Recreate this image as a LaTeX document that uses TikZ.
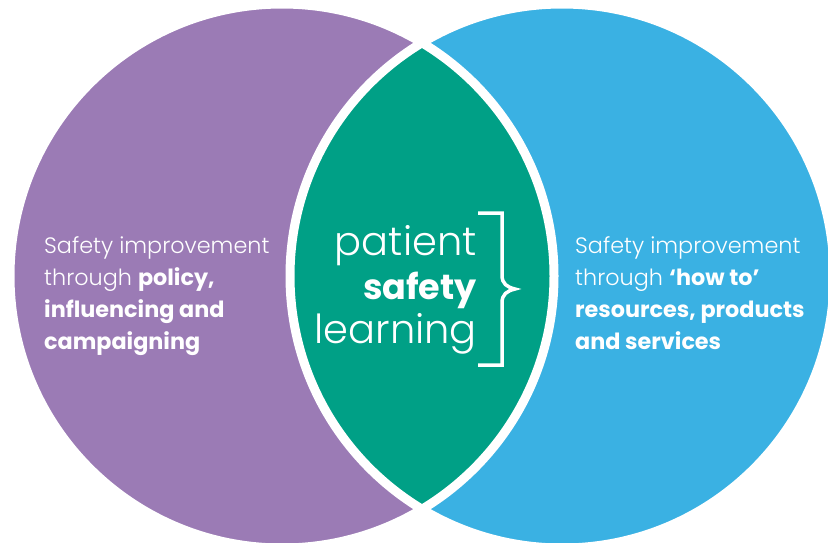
\documentclass[tikz,border=0pt]{standalone}
\usepackage{fontspec}
\setmainfont{Poppins}
\IfFontExistsTF{Poppins Light}{\newfontfamily\lightfont{Poppins Light}}{\newfontfamily\lightfont{Poppins}}
\definecolor{ppurple}{RGB}{155,123,181}
\definecolor{pblue}{RGB}{58,177,227}
\definecolor{pgreen}{RGB}{0,160,134}
\begin{document}
\begin{tikzpicture}[x=1pt,y=-1pt,
  sidetext/.style={anchor=base west, inner sep=0pt, text=white, font=\fontsize{22.3}{28}\selectfont},
  midtext/.style={anchor=base east, inner sep=0pt, text=white, font=\fontsize{40}{44}\selectfont},
  gap/.style={white, line width=9pt}]
\useasboundingbox (0,0) rectangle (828,542);
\fill[white] (0,0) rectangle (828,542);
\coordinate (L) at (282,276);
\coordinate (R) at (562,276);
\fill[ppurple] (L) circle[radius=272];
\fill[pblue] (R) circle[radius=272];
\begin{scope}
  \clip (L) circle[radius=272];
  \fill[pgreen] (R) circle[radius=272];
\end{scope}
\draw[gap] (R) circle[radius=272];
\draw[gap] (L) circle[radius=272];
% left text
\node[sidetext] (l1) at (44,253) {\lightfont Safety improvement};
\node[sidetext] (l2) at (44,285) {\lightfont through \normalfont\bfseries policy,};
\node[sidetext] (l3) at (44,317) {\bfseries influencing and};
\node[sidetext] (l4) at (44,349) {\bfseries campaigning};
% right text
\node[sidetext] (r1) at (575,253) {\lightfont Safety improvement};
\node[sidetext] (r2) at (575,285) {\lightfont through \normalfont\bfseries ‘how to’};
\node[sidetext] (r3) at (575,317) {\bfseries resources, products};
\node[sidetext] (r4) at (575,349) {\bfseries and services};
% centre text
\node[midtext] (c1) at (477,255) {\lightfont patient};
\node[midtext, font=\fontsize{35}{40}\selectfont] (c2) at (477,299) {\bfseries safety};
\node[midtext] (c3) at (477,343) {\lightfont learning};
% bracket
\draw[white, line width=3.5pt, line join=miter]
  (478,213) -- (502,213) -- (502,275)
  .. controls (502,284) and (507,287) .. (515,289)
  .. controls (507,291) and (502,294) .. (502,303)
  -- (502,365) -- (478,365);
\end{tikzpicture}
\end{document}
